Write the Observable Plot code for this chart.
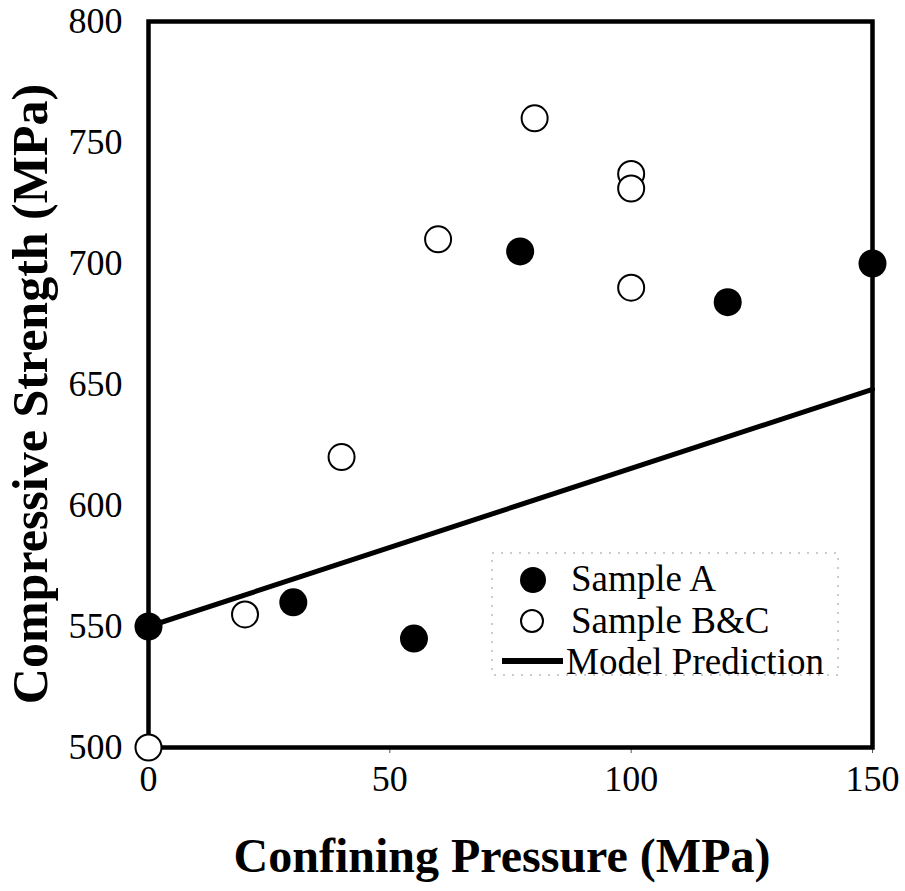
<!DOCTYPE html>
<html><head><meta charset="utf-8">
<script src="https://cdn.jsdelivr.net/npm/d3@7"></script>
<script src="https://cdn.jsdelivr.net/npm/@observablehq/plot@0.6"></script>
<style>
body{margin:0;background:#fff;}
#wrap{position:relative;width:905px;height:891px;font-family:"Liberation Serif","Times New Roman",serif;color:#000;}
.ytitle{position:absolute;left:30px;top:394px;transform:translate(-50%,-50%) rotate(-90deg);font-weight:bold;font-size:50px;line-height:1;white-space:nowrap;}
.xtitle{position:absolute;left:502px;top:856px;transform:translate(-50%,-50%);font-weight:bold;font-size:48px;line-height:1;white-space:nowrap;}
#legend{position:absolute;left:0;top:0;pointer-events:none;}
</style></head><body><div id="wrap"></div>
<script>
// Data
const sampleA_x = [0, 30, 55, 77, 120, 150];
const sampleA_y = [550, 560, 545, 705, 684, 700];
const sampleBC_x = [0, 20, 40, 60, 80, 100, 100, 100];
const sampleBC_y = [500, 555, 620, 710, 760, 737, 731, 690];
const model_x = [0, 150];
const model_y = [550, 648];
const xTicks = [0, 50, 100, 150];
const yTicks = [500, 550, 600, 650, 700, 750, 800];
const seriesNames = ["Sample A", "Sample B&C", "Model Prediction"];
const xTitle = "Confining Pressure (MPa)";
const yTitle = "Compressive Strength (MPa)";

const A = sampleA_x.map((x, i) => ({x, y: sampleA_y[i]}));
const BC = sampleBC_x.map((x, i) => ({x, y: sampleBC_y[i]}));
const model = model_x.map((x, i) => ({x, y: model_y[i]}));

const chart = Plot.plot({
  width: 905, height: 891,
  marginLeft: 148, marginRight: 33, marginTop: 21, marginBottom: 144,
  style: {fontFamily: '"Liberation Serif","Times New Roman",serif', background: "white", color: "black"},
  x: {domain: [0, 150]},
  y: {domain: [500, 800]},
  marks: [
    Plot.axisX({ticks: xTicks, tickSize: 6, tickPadding: 12, fontSize: 36, label: null, stroke: "#555"}),
    Plot.axisY({ticks: yTicks, tickSize: 0, tickPadding: 26, fontSize: 36, label: null}),
    Plot.line(model, {x: "x", y: "y", stroke: "black", strokeWidth: 5}),
    Plot.frame({stroke: "black", strokeWidth: 4.5}),
    Plot.dot(A, {x: "x", y: "y", r: 14, fill: "black"}),
    Plot.dot(BC, {x: "x", y: "y", r: 13, fill: "white", stroke: "black", strokeWidth: 2})
  ]
});
const wrap = document.getElementById("wrap");
wrap.appendChild(chart);

const yt = document.createElement("div"); yt.className = "ytitle"; yt.textContent = yTitle; wrap.appendChild(yt);
const xt = document.createElement("div"); xt.className = "xtitle"; xt.textContent = xTitle; wrap.appendChild(xt);

// Legend overlay
const lg = d3.select(wrap).append("svg").attr("id", "legend").attr("width", 905).attr("height", 891)
  .style("font-family", '"Liberation Serif","Times New Roman",serif');
lg.append("rect").attr("x", 492).attr("y", 553).attr("width", 346).attr("height", 122)
  .attr("fill", "none").attr("stroke", "#999").attr("stroke-width", 1).attr("stroke-dasharray", "2,7");
lg.append("circle").attr("cx", 533).attr("cy", 580).attr("r", 13).attr("fill", "black");
lg.append("circle").attr("cx", 532).attr("cy", 621).attr("r", 11).attr("fill", "white").attr("stroke", "black").attr("stroke-width", 2);
lg.append("line").attr("x1", 502).attr("x2", 563).attr("y1", 661).attr("y2", 661).attr("stroke", "black").attr("stroke-width", 6);
const ty = [591, 633, 674], tx = [571, 571, 566];
seriesNames.forEach((s, i) => lg.append("text").attr("x", tx[i]).attr("y", ty[i]).attr("font-size", 37).text(s));
</script></body></html>
